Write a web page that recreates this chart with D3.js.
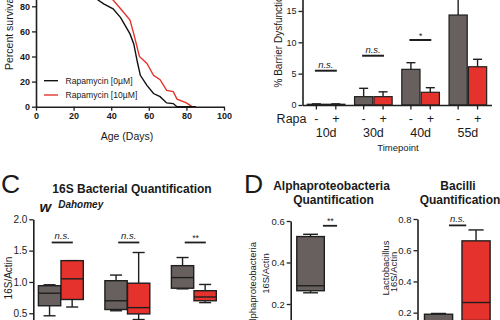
<!DOCTYPE html>
<html><head><meta charset="utf-8">
<script src="https://cdn.jsdelivr.net/npm/d3@7"></script>
<style>
body{margin:0;background:#fff}
svg{display:block}
text{font-family:"Liberation Sans",Arial,Helvetica,sans-serif;fill:#1a1a1a}
</style>
</head><body>
<svg id="fig" width="500" height="320"></svg>
<script>
// ---------- DATA ----------
// Panel A: survival
const ageTicks = [0, 20, 40, 60, 80, 100];
const survivalTicks = [0, 20, 40, 60, 80, 100];
const survivalDays0  = [0, 20, 28, 33, 36, 41, 45, 50, 52, 54, 55.5, 59, 62.5, 66, 69.5, 73, 75, 85];
const survivalPct0   = [100, 96, 92, 85, 82, 78, 71, 58, 50, 35, 25, 17, 10.5, 8, 3, 2.5, 0, 0];
const survivalDays10 = [0, 25, 35, 41, 45, 50, 52, 55, 59, 62.5, 66, 69.5, 73, 75, 80, 83, 85];
const survivalPct10  = [100, 97, 92, 85, 78, 69, 58, 40, 34.5, 25, 21.5, 13, 12, 6, 3, 0, 0];
const legendLabels = ["Rapamycin [0\u00b5M]", "Rapamycin [10\u00b5M]"];

// Panel B: barrier dysfunction
const barrierTimepoints = ["10d", "30d", "40d", "55d"];
const rapaLevels = ["-", "+"];
const barrierTicks = [0, 5, 10, 15, 20];
const barrierMeanNoRapa = [0.12, 1.33, 5.69, 14.35];
const barrierErrNoRapa  = [0.06, 1.33, 1.06, 2.6];
const barrierMeanRapa   = [0.12, 1.33, 2.03, 6.1];
const barrierErrRapa    = [0.06, 0.77, 0.73, 1.19];
const barrierSig      = ["n.s.", "n.s.", "*"];
const barrierSigLevel = [5.47, 7.86, 10.37];

// Panel C: 16S quantification, boxes = [min, q1, median, q3, max]
const bactGroups = ["G1", "G2", "G3"];
const bactTicks = [0, 0.5, 1.0, 1.5, 2.0];
const bactNoRapa = [[0.46, 0.62, 0.82, 0.94, 0.955], [0.54, 0.56, 0.70, 1.02, 1.11], [0.89, 0.90, 1.07, 1.26, 1.39]];
const bactRapa   = [[0.60, 0.72, 1.05, 1.34, 1.34], [0.40, 0.49, 0.59, 0.98, 1.47], [0.67, 0.70, 0.76, 0.86, 0.96]];
const bactSig      = ["n.s.", "n.s.", "**"];
const bactSigLevel = [1.63, 1.63, 1.63];

// Panel D: Alphaproteobacteria and Bacilli
const alphaTicks = [0, 0.2, 0.4, 0.6];
const alphaNoRapa = [0.254, 0.264, 0.288, 0.525, 0.536];
const alphaRapa   = [0.02, 0.03, 0.05, 0.07, 0.09];
const alphaSig = "**", alphaSigLevel = 0.577;
const bacilliTicks = [0, 0.2, 0.4, 0.6, 0.8];
const bacilliNoRapa = [0.05, 0.08, 0.12, 0.19, 0.195];
const bacilliRapa   = [0.10, 0.15, 0.265, 0.66, 0.73];
const bacilliSig = "n.s.", bacilliSigLevel = 0.759;

// ---------- STYLE ----------
const GREY = "#68605e", RED = "#e5322c", INK = "#1f1f1f", LRED = "#e4332c";
const svg = d3.select("#fig");

function styleAxis(g, size, bold) {
  g.select(".domain").attr("stroke", INK).attr("stroke-width", 1.6);
  g.selectAll(".tick line").attr("stroke", INK).attr("stroke-width", 1.3);
  g.selectAll(".tick text").attr("font-size", size).attr("font-weight", bold ? "bold" : "normal").attr("fill", INK);
}
function rotLabel(x, y, txt, size, anchor) {
  svg.append("text").attr("transform", `translate(${x},${y}) rotate(-90)`)
    .attr("text-anchor", anchor || "middle").attr("font-size", size).text(txt);
}

// ---------- PANEL A ----------
const xA = d3.scaleLinear().domain([0, 100]).range([36, 224]);
const yA = d3.scaleLinear().domain([0, 100]).range([106.7, -18.8]);
const axA = svg.append("g").attr("transform", "translate(0,106.7)")
  .call(d3.axisBottom(xA).tickValues(ageTicks).tickSize(4).tickSizeOuter(0).tickPadding(2));
styleAxis(axA, 9, true);
const ayA = svg.append("g").attr("transform", "translate(36,0)")
  .call(d3.axisLeft(yA).tickValues(survivalTicks).tickSize(4).tickSizeOuter(0).tickPadding(2));
styleAxis(ayA, 9, true);
const lineA = d3.line().x(d => xA(d[0])).y(d => yA(d[1]));
svg.append("path").datum(survivalDays10.map((d, i) => [d, survivalPct10[i]]))
  .attr("d", lineA).attr("fill", "none").attr("stroke", LRED).attr("stroke-width", 1.4);
svg.append("path").datum(survivalDays0.map((d, i) => [d, survivalPct0[i]]))
  .attr("d", lineA).attr("fill", "none").attr("stroke", "#111").attr("stroke-width", 1.4);
svg.append("text").attr("x", 127).attr("y", 139.5).attr("text-anchor", "middle").attr("font-size", 10.5).text("Age (Days)");
rotLabel(12.5, 70, "Percent survival", 10.5, "start");
legendLabels.forEach((lab, i) => {
  const y = 80.7 + i * 14.3;
  svg.append("line").attr("x1", 44).attr("x2", 58).attr("y1", y).attr("y2", y)
    .attr("stroke", i ? LRED : "#111").attr("stroke-width", 1.4);
  svg.append("text").attr("x", 65.5).attr("y", y + 3).attr("font-size", 8.6).attr("fill", "#333").text(lab);
});

// ---------- PANEL B ----------
const xB = d3.scaleBand().domain(barrierTimepoints).range([302.5, 491.5]);
const xBi = d3.scaleBand().domain(rapaLevels).range([4.2, 43.0]);
const yB = d3.scaleLinear().domain([0, 20]).range([105, -20.4]);
const barData = [];
barrierTimepoints.forEach((t, i) => {
  barData.push({t, r: "-", v: barrierMeanNoRapa[i], e: barrierErrNoRapa[i]});
  barData.push({t, r: "+", v: barrierMeanRapa[i], e: barrierErrRapa[i]});
});
const cB = d => xB(d.t) + xBi(d.r) + xBi.bandwidth() / 2;
svg.append("g").selectAll("line").data(barData).join("line")
  .attr("x1", cB).attr("x2", cB).attr("y1", d => yB(d.v)).attr("y2", d => yB(d.v + d.e))
  .attr("stroke", INK).attr("stroke-width", 1.4);
svg.append("g").selectAll("line").data(barData).join("line")
  .attr("x1", d => cB(d) - 4.5).attr("x2", d => cB(d) + 4.5).attr("y1", d => yB(d.v + d.e)).attr("y2", d => yB(d.v + d.e))
  .attr("stroke", INK).attr("stroke-width", 1.4);
svg.append("g").selectAll("rect").data(barData).join("rect")
  .attr("x", d => xB(d.t) + xBi(d.r) + 0.6).attr("width", xBi.bandwidth() - 1.2)
  .attr("y", d => yB(d.v)).attr("height", d => yB(0) - yB(d.v))
  .attr("fill", d => d.r === "-" ? GREY : RED).attr("stroke", INK).attr("stroke-width", 1.2);
const axB = svg.append("g").attr("transform", "translate(0,105)")
  .call(d3.axisBottom(xB).tickSize(0).tickSizeOuter(0).tickFormat(""));
styleAxis(axB, 9, false);
svg.append("g").selectAll("line").data(barData).join("line")
  .attr("x1", cB).attr("x2", cB).attr("y1", 105).attr("y2", 109.5).attr("stroke", INK).attr("stroke-width", 1.3);
const ayB = svg.append("g").attr("transform", "translate(302.5,0)")
  .call(d3.axisLeft(yB).tickValues(barrierTicks).tickSize(4).tickSizeOuter(0).tickPadding(2));
styleAxis(ayB, 9, false);
svg.append("g").selectAll("text").data(barData).join("text")
  .attr("x", cB).attr("y", 122.5).attr("text-anchor", "middle").attr("font-size", 12.5).text(d => d.r);
svg.append("text").attr("x", 306.5).attr("y", 122.5).attr("text-anchor", "end").attr("font-size", 12.5).text("Rapa");
svg.append("g").selectAll("text").data(barrierTimepoints).join("text")
  .attr("x", d => xB(d) + xB.bandwidth() / 2).attr("y", 136.5).attr("text-anchor", "middle").attr("font-size", 12.5).text(d => d);
svg.append("text").attr("x", 398).attr("y", 151).attr("text-anchor", "middle").attr("font-size", 9.5).text("Timepoint");
rotLabel(281.5, 87.5, "% Barrier Dysfunction", 10, "start");
barrierSig.forEach((s, i) => {
  const t = barrierTimepoints[i];
  const x1 = xB(t) + xBi("-") + xBi.bandwidth() / 2 - 1.5, x2 = xB(t) + xBi("+") + xBi.bandwidth() / 2 + 1;
  const y = yB(barrierSigLevel[i]);
  svg.append("line").attr("x1", x1).attr("x2", x2).attr("y1", y).attr("y2", y).attr("stroke", INK).attr("stroke-width", 2);
  svg.append("text").attr("x", (x1 + x2) / 2).attr("y", s === "*" ? y - 1 : y - 3).attr("text-anchor", "middle")
    .attr("font-size", s === "*" ? 9 : 9.5).attr("font-style", "italic").attr("fill", "#333").text(s);
});

// ---------- BOX HELPER ----------
function drawBox(x0, w, stats, fill, ys) {
  const [mn, q1, md, q3, mx] = stats, c = x0 + w / 2, cw = w * 0.27;
  const g = svg.append("g");
  [[mn, q1], [q3, mx]].forEach(([a, b]) => {
    g.append("line").attr("x1", c).attr("x2", c).attr("y1", ys(a)).attr("y2", ys(b)).attr("stroke", INK).attr("stroke-width", 1.4);
  });
  [mn, mx].forEach(v => {
    g.append("line").attr("x1", c - cw).attr("x2", c + cw).attr("y1", ys(v)).attr("y2", ys(v)).attr("stroke", INK).attr("stroke-width", 1.4);
  });
  g.append("rect").attr("x", x0).attr("width", w).attr("y", ys(q3)).attr("height", ys(q1) - ys(q3))
    .attr("fill", fill).attr("stroke", INK).attr("stroke-width", 1.4);
  g.append("line").attr("x1", x0).attr("x2", x0 + w).attr("y1", ys(md)).attr("y2", ys(md)).attr("stroke", INK).attr("stroke-width", 1.4);
}
function sig(x1, x2, y, s) {
  svg.append("line").attr("x1", x1).attr("x2", x2).attr("y1", y).attr("y2", y).attr("stroke", INK).attr("stroke-width", 1.8);
  svg.append("text").attr("x", (x1 + x2) / 2).attr("y", s.startsWith("*") ? y - 1.5 : y - 3).attr("text-anchor", "middle")
    .attr("font-size", s.startsWith("*") ? 8.5 : 9.5).attr("font-style", "italic").attr("fill", "#333").text(s);
}

// ---------- PANEL C ----------
svg.append("text").attr("x", 1).attr("y", 192.5).attr("font-size", 26.5).text("C");
svg.append("text").attr("x", 132).attr("y", 192.5).attr("text-anchor", "middle").attr("font-size", 12).attr("font-weight", "bold").text("16S Bacterial Quantification");
const wt = svg.append("text").attr("x", 39.5).attr("y", 212.3).attr("font-weight", "bold").attr("font-style", "italic");
wt.append("tspan").attr("font-size", 15).text("w");
wt.append("tspan").attr("font-size", 10).attr("dx", 7).attr("dy", -4.5).text("Dahomey");
const xC = d3.scaleBand().domain(bactGroups).range([27.6, 227.1]);
const xCi = d3.scaleBand().domain(rapaLevels).range([10.8, 56.0]);
const yC = d3.scaleLinear().domain([0, 2]).range([344.6, 219.3]);
const ayC = svg.append("g").attr("transform", "translate(33.3,0)")
  .call(d3.axisLeft(yC).tickValues(bactTicks).tickSize(4).tickSizeOuter(0).tickPadding(2).tickFormat(d3.format(".1f")));
styleAxis(ayC, 10, false);
bactGroups.forEach((g, i) => {
  drawBox(xC(g) + xCi("-"), xCi.bandwidth() - 0.3, bactNoRapa[i], GREY, yC);
  drawBox(xC(g) + xCi("+"), xCi.bandwidth() - 0.3, bactRapa[i], RED, yC);
  const c1 = xC(g) + xCi("-") + xCi.bandwidth() / 2, c2 = xC(g) + xCi("+") + xCi.bandwidth() / 2;
  sig(c1 + 2, c2 + 0.5, yC(bactSigLevel[i]), bactSig[i]);
});
rotLabel(11.5, 278, "16S/Actin", 10);

// ---------- PANEL D ----------
svg.append("text").attr("x", 244).attr("y", 192.5).attr("font-size", 26.5).text("D");
[["Alphaproteobacteria", 331.5], ["Bacilli", 458]].forEach(([t, x]) => {
  svg.append("text").attr("x", x).attr("y", 189.5).attr("text-anchor", "middle").attr("font-size", 12).attr("font-weight", "bold").text(t);
  svg.append("text").attr("x", x + 2).attr("y", 203.5).attr("text-anchor", "middle").attr("font-size", 12).attr("font-weight", "bold").text("Quantification");
});
// Alpha
const xDa = d3.scaleBand().domain(rapaLevels).range([292.2, 365.6]).paddingInner(0.25).paddingOuter(0.125);
const yDa = d3.scaleLinear().domain([0, 0.6]).range([345.5, 221]);
const ayDa = svg.append("g").attr("transform", "translate(290.7,0)")
  .call(d3.axisLeft(yDa).tickValues(alphaTicks).tickSize(4).tickSizeOuter(0).tickPadding(2).tickFormat(d3.format(".1f")));
styleAxis(ayDa, 9.5, false);
drawBox(xDa("-"), xDa.bandwidth(), alphaNoRapa, GREY, yDa);
drawBox(xDa("+"), xDa.bandwidth(), alphaRapa, RED, yDa);
sig(xDa("-") + xDa.bandwidth() * 0.95, xDa("+") + xDa.bandwidth() * 0.13, yDa(alphaSigLevel), alphaSig);
rotLabel(256, 242, "Alphaproteobacteria", 9.5, "end");
rotLabel(268.5, 273.5, "16S/Actin", 9.5);
// Bacilli
const xDb = d3.scaleBand().domain(rapaLevels).range([419.8, 494.8]).paddingInner(0.25).paddingOuter(0.125);
const yDb = d3.scaleLinear().domain([0, 0.8]).range([343.9, 219]);
const ayDb = svg.append("g").attr("transform", "translate(417.5,0)")
  .call(d3.axisLeft(yDb).tickValues(bacilliTicks).tickSize(4).tickSizeOuter(0).tickPadding(2).tickFormat(d3.format(".1f")));
styleAxis(ayDb, 9.5, false);
drawBox(xDb("-"), xDb.bandwidth(), bacilliNoRapa, GREY, yDb);
drawBox(xDb("+"), xDb.bandwidth(), bacilliRapa, RED, yDb);
sig(xDb("-") + xDb.bandwidth() * 0.87, xDb("+") + xDb.bandwidth() * 0.15, yDb(bacilliSigLevel), bacilliSig);
rotLabel(389, 268, "Lactobacillus", 9.5);
rotLabel(397, 272, "16S/Actin", 9.5);
</script>
</body></html>
